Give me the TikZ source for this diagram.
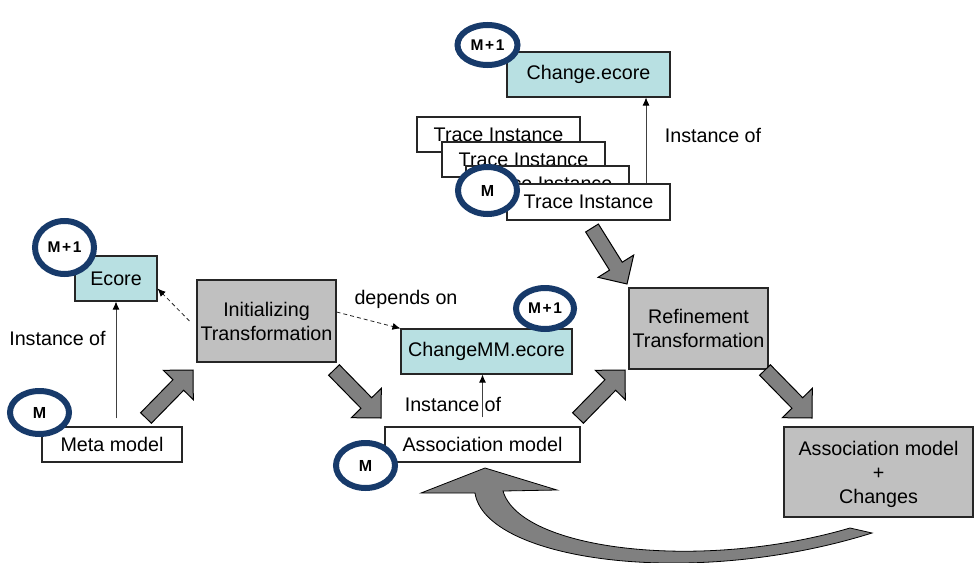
\documentclass[tikz,border=0pt]{standalone}
\usepackage{fontspec}
\setmainfont{Liberation Sans}
\usetikzlibrary{arrows.meta,calc,shapes.geometric}

\definecolor{boxgray}{HTML}{C0C0C0}
\definecolor{metacyan}{HTML}{B8E0E2}
\definecolor{levelnavy}{HTML}{173A6A}
\definecolor{flowgray}{HTML}{808080}

% broad block arrow from tail coordinate #1 to tip coordinate #2
\newcommand\fatarrow[2]{%
  \coordinate (fa-base) at ($(#2)!21pt!(#1)$);
  \filldraw[fatflow]
    ($(#1)!7.5pt!90:(#2)$) --
    ($(fa-base)!7.5pt!90:(#2)$) --
    ($(fa-base)!21pt!90:(#2)$) --
    (#2) --
    ($(fa-base)!21pt!-90:(#2)$) --
    ($(fa-base)!7.5pt!-90:(#2)$) --
    ($(#1)!7.5pt!-90:(#2)$) -- cycle;
}
% label of an upper meta level
\newcommand\uplevel{M\kern1.6pt+\kern1.6pt1}

\begin{document}
\begin{tikzpicture}[x=1pt,y=-1pt,
  every node/.style={font=\fontsize{19.7pt}{24pt}\selectfont, inner sep=0pt},
  plainbox/.style={draw=black!85, line width=1.1pt, fill=white, align=center},
  graybox/.style={plainbox, fill=boxgray},
  cyanbox/.style={plainbox, fill=metacyan},
  level/.style={ellipse, draw=levelnavy, line width=6pt, fill=white,
    font=\bfseries\fontsize{15.5pt}{15.5pt}\selectfont},
  thinarrow/.style={draw=black!75, line width=0.8pt, -{Latex[length=8pt,width=7pt,black]}},
  dasharrow/.style={thinarrow, draw=black!85, dash pattern=on 4pt off 3pt},
  fatflow/.style={fill=flowgray, draw=black, line width=1pt, line join=miter}
]
\useasboundingbox (0,0) rectangle (974,562);

% ---- trace stack and the change metamodel ----
\node[cyanbox, minimum width=163pt, minimum height=45pt] (change) at (588.5,74.5) {Change.ecore};
\node[plainbox, minimum width=163pt, minimum height=35pt] (trace1) at (498.5,134.5) {Trace Instance};
\node[plainbox, minimum width=163pt, minimum height=35pt] (trace2) at (523.5,159.5) {Trace Instance};
\node[plainbox, minimum width=163pt, minimum height=35pt] (trace3) at (547.5,183.5) {Trace Instance};
\node[plainbox, minimum width=163pt, minimum height=36pt] (trace4) at (588.5,202) {Trace Instance};

% ---- left part ----
\node[cyanbox, minimum width=82pt, minimum height=45pt] (ecore) at (116,278.5) {Ecore};
\node[graybox, minimum width=139pt, minimum height=82pt] (init) at (266.5,321) {Initializing\\Transformation};
\node[plainbox, minimum width=140pt, minimum height=35pt] (meta) at (112,444.5) {Meta model};

% ---- middle and right part ----
\node[cyanbox, minimum width=171pt, minimum height=45pt] (changemm) at (486.5,351.5) {ChangeMM.ecore};
\node[plainbox, minimum width=195pt, minimum height=35pt] (assoc) at (482.5,444.5) {Association model};
\node[graybox, minimum width=139pt, minimum height=81pt] (refine) at (698.5,328.5) {Refinement\\Transformation};
\node[graybox, minimum width=189pt, minimum height=90pt, text depth=0pt] (assocchg) at (878.5,472) {Association model\\+\\Changes};

% ---- thin relations ----
\draw[thinarrow] ([xshift=57.5pt]trace4.north) -- ([xshift=57.5pt]change.south);
\node (lblchange) at (713,135) {Instance of};

\draw[thinarrow] ([yshift=8pt]meta.north -| ecore.south) -- (ecore.south);
\node (lblmeta) at (57.5,338) {Instance of};

\draw[thinarrow] ([yshift=9pt]assoc.north) -- (assoc.north |- changemm.south);
\node (lblassoc) at (453,404) {Instance of};

\draw[dasharrow] ([xshift=-7pt]init.west) -- ([yshift=-10pt]ecore.east);
\draw[dasharrow] ([yshift=9pt]init.east) -- (changemm.north west);
\node (lbldepends) at (406,299) {depends on};

% ---- transformation flow ----
\coordinate (f1t) at (146,418);  \coordinate (f1h) at (193,370);
\coordinate (f2t) at (334,370);  \coordinate (f2h) at (381,418);
\coordinate (f3t) at (578,418);  \coordinate (f3h) at (625,370);
\coordinate (f4t) at (592,228);  \coordinate (f4h) at (627,284);
\coordinate (f5t) at (765,370);  \coordinate (f5h) at (812,418);
\fatarrow{f1t}{f1h}
\fatarrow{f2t}{f2h}
\fatarrow{f3t}{f3h}
\fatarrow{f4t}{f4h}
\fatarrow{f5t}{f5h}

% ---- feedback loop back to the association model ----
\coordinate (loopTip) at (485,468);
\coordinate (loopWingR) at (557,490);
\coordinate (loopInR) at (503,491);
\coordinate (loopTailA) at (850,528);
\coordinate (loopTailB) at (872,533);
\coordinate (loopInL) at (475,493);
\coordinate (loopWingL) at (421,493);
\filldraw[fatflow, line width=0.8pt]
  (loopTip) -- (loopWingR) -- (loopInR)
  .. controls (520,550) and (700,572) .. (loopTailA)
  -- (loopTailB)
  .. controls (690,590) and (485,560) .. (loopInL)
  -- (loopWingL) -- cycle;

% ---- meta levels ----
\node[level, minimum width=60pt, minimum height=40pt] (lvlchange) at (487.5,45) {\uplevel};
\node[level, minimum width=59pt, minimum height=47pt, font=\bfseries\fontsize{16pt}{16pt}\selectfont] (lvltrace) at (487.5,190.5) {M};
\node[level, minimum width=59pt, minimum height=53pt] (lvlecore) at (64.5,247.5) {\uplevel};
\node[level, minimum width=59pt, minimum height=43pt, font=\bfseries\fontsize{16pt}{16pt}\selectfont] (lvlmeta) at (39.5,412.5) {M};
\node[level, minimum width=58pt, minimum height=41pt] (lvlchangemm) at (545,308.5) {\uplevel};
\node[level, minimum width=59pt, minimum height=45pt, font=\bfseries\fontsize{16pt}{16pt}\selectfont] (lvlassoc) at (365.5,465.5) {M};
\end{tikzpicture}
\end{document}
